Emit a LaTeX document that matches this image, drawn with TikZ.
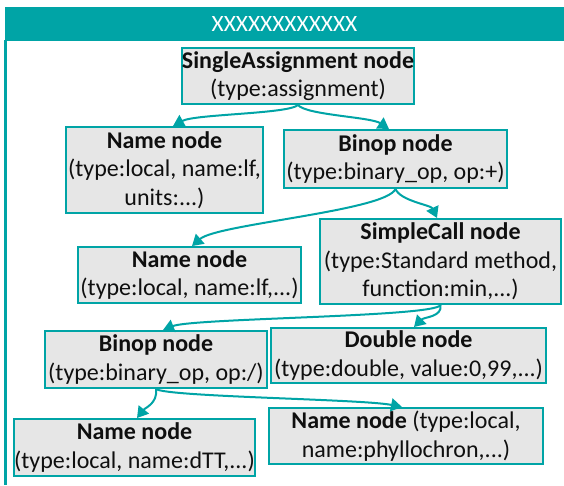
\documentclass[tikz,border=0pt]{standalone}
\usepackage{fontspec}
\setmainfont{Carlito}
\usetikzlibrary{arrows.meta,calc}
\definecolor{tealc}{RGB}{0,164,166}
\definecolor{boxgrey}{RGB}{230,230,230}
\definecolor{ink}{RGB}{15,15,15}
\tikzset{
  box/.style={draw=tealc, fill=boxgrey, line width=2pt, align=center,
    inner sep=0pt, text=ink, font=\fontsize{24}{28.5}\selectfont},
  conn/.style={draw=tealc, line width=2pt,
    -{Triangle[length=11pt,width=13pt]}},
}
\begin{document}
\begin{tikzpicture}[x=1pt,y=-1pt]
\useasboundingbox (0,0) rectangle (564,485);

% title bar and frame
\fill[tealc] (5,7) rectangle (564,41);
\node[text=white, font=\fontsize{23.4}{28.5}\selectfont] (title) at (284.5,24) {XXXXXXXXXXXX};
\draw[tealc, line width=2.5pt] (5.5,40) -- (5.5,485);

% tree nodes
\node[box, minimum width=232pt, minimum height=56pt] (sa)  at (298,76)    {\textbf{SingleAssignment node}\\(type:assignment)};
\node[box, minimum width=197pt, minimum height=86pt] (nm1) at (164.5,170) {\textbf{Name node}\\(type:local, name:lf,\\units:...)};
\node[box, minimum width=223pt, minimum height=58pt] (bo1) at (395.5,159) {\textbf{Binop node}\\(type:binary\_op, op:+)};
\node[box, minimum width=223pt, minimum height=56pt] (nm2) at (189.5,275) {\textbf{Name node}\\(type:local, name:lf,...)};
\node[box, minimum width=241pt, minimum height=85pt] (sc)  at (440.5,261.5) {\textbf{SimpleCall node}\\(type:Standard method,\\function:min,...)};
\node[box, minimum width=222pt, minimum height=57pt] (bo2) at (156,359.5) {\textbf{Binop node}\\(type:binary\_op, op:/)};
\node[box, minimum width=275pt, minimum height=55pt] (db)  at (408.5,355.5) {\textbf{Double node}\\(type:double, value:0,99,...)};
\node[box, minimum width=241pt, minimum height=57pt] (nm3) at (134.5,447.5) {\textbf{Name node}\\(type:local, name:dTT,...)};
\node[box, minimum width=274pt, minimum height=56pt] (nm4) at (406,436)   {\textbf{Name node} (type:local,\\name:phyllochron,...)};

% arrow tips on the child boxes
\coordinate (t1) at ([xshift=8.5pt]nm1.north);
\coordinate (t2) at ([xshift=-6.5pt]bo1.north);
\coordinate (t3) at ([xshift=2.5pt]nm2.north);
\coordinate (t4) at ([xshift=-3.5pt]sc.north);
\coordinate (t5) at ([xshift=7pt]bo2.north);
\coordinate (t6) at ([xshift=5.5pt]db.north);
\coordinate (t7) at ([xshift=2.5pt]nm3.north);
\coordinate (t8) at ([xshift=-4pt]nm4.north);

% connectors
\draw[conn] (sa.south) .. controls ($(sa.south)+(-10,9)$) and ($(t1)+(22,-12)$) .. (t1);
\draw[conn] (sa.south) .. controls ($(sa.south)+(8,10)$) and ($(t2)+(-18,-12)$) .. (t2);
\draw[conn] (bo1.south) .. controls ($(bo1.south)+(-10,22)$) and ($(t3)+(25,-22)$) .. (t3);
\draw[conn] (bo1.south) .. controls ($(bo1.south)+(5,12)$) and ($(t4)+(-6,-13)$) .. (t4);
\draw[conn] (sc.south) .. controls ($(sc.south)+(-5,12)$) and ($(t5)+(30,-12)$) .. (t5);
\draw[conn] (sc.south) .. controls ($(sc.south)+(2,12)$) and ($(t6)+(10,-10)$) .. (t6);
\draw[conn] (bo2.south) .. controls ($(bo2.south)+(2,14)$) and ($(t7)+(8,-10)$) .. (t7);
\draw[conn] (bo2.south) .. controls ($(bo2.south)+(12,8)$) and ($(t8)+(-40,-8)$) .. (t8);
\end{tikzpicture}
\end{document}
